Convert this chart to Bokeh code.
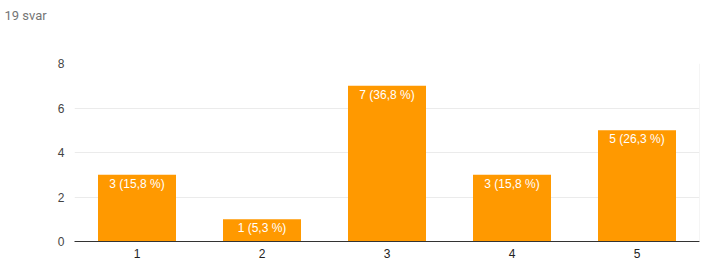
from bokeh.plotting import figure
from bokeh.models import Range1d, FixedTicker, ColumnDataSource, Span, Title
from bokeh.core.properties import value
from bokeh.embed import file_html
from bokeh.resources import INLINE

categories = ["1", "2", "3", "4", "5"]
counts = [3, 1, 7, 3, 5]
total = 19
y_ticks = [0, 2, 4, 6, 8]
title_text = "19 svar"

labels = [f"{c} ({c / total * 100:.1f} %)".replace(".", ",") for c in counts]
xs = list(range(1, len(categories) + 1))

src = ColumnDataSource(dict(x=xs, top=counts, label=labels))

p = figure(width=706, height=262, output_backend="svg", toolbar_location=None,
           x_range=Range1d(0.5, 5.5), y_range=Range1d(0, 8), title=None)
p.min_border_left = 74
p.min_border_right = 7
p.min_border_top = 0
p.min_border_bottom = 21
p.outline_line_color = None
p.background_fill_color = "white"
p.border_fill_color = "white"

# spacer between title and frame (closest to frame)
p.add_layout(Title(text=" ", text_font_size="13px", standoff=19), "above")
# real title at the top
p.add_layout(Title(text=title_text, align="left", offset=-70, standoff=10,
                   text_font="Roboto", text_font_size="13px", text_font_style="normal",
                   text_color="#757575"), "above")

p.vbar(x="x", top="top", width=0.624, source=src, fill_color="#ff9900", line_color=None)

p.text(x="x", y="top", text="label", source=src, text_color="white",
       text_font=value("Liberation Sans"), text_font_size="12px",
       text_align="center", text_baseline="top", y_offset=2)

# right edge line
p.add_layout(Span(location=5.5, dimension="height", line_color="#ebebeb", line_width=1))

p.xgrid.grid_line_color = None
p.ygrid.grid_line_color = "#ebebeb"
p.ygrid.ticker = FixedTicker(ticks=y_ticks)

p.yaxis.ticker = FixedTicker(ticks=y_ticks)
p.yaxis.axis_line_color = None
p.yaxis.major_tick_line_color = None
p.yaxis.major_tick_out = 0
p.yaxis.minor_tick_line_color = None
p.yaxis.minor_tick_out = 0
p.yaxis.major_label_text_font = "Liberation Sans"
p.yaxis.major_label_text_font_size = "12px"
p.yaxis.major_label_text_color = "#444444"
p.yaxis.major_label_standoff = 10

p.xaxis.ticker = FixedTicker(ticks=xs)
p.xaxis.major_label_overrides = {x: c for x, c in zip(xs, categories)}
p.xaxis.axis_line_color = "#333333"
p.xaxis.major_tick_line_color = None
p.xaxis.major_tick_out = 0
p.xaxis.minor_tick_line_color = None
p.xaxis.minor_tick_out = 0
p.xaxis.major_label_text_font = "Liberation Sans"
p.xaxis.major_label_text_font_size = "12px"
p.xaxis.major_label_text_color = "#222222"
p.xaxis.major_label_standoff = 7

open("out.html", "w").write(file_html(p, INLINE))
